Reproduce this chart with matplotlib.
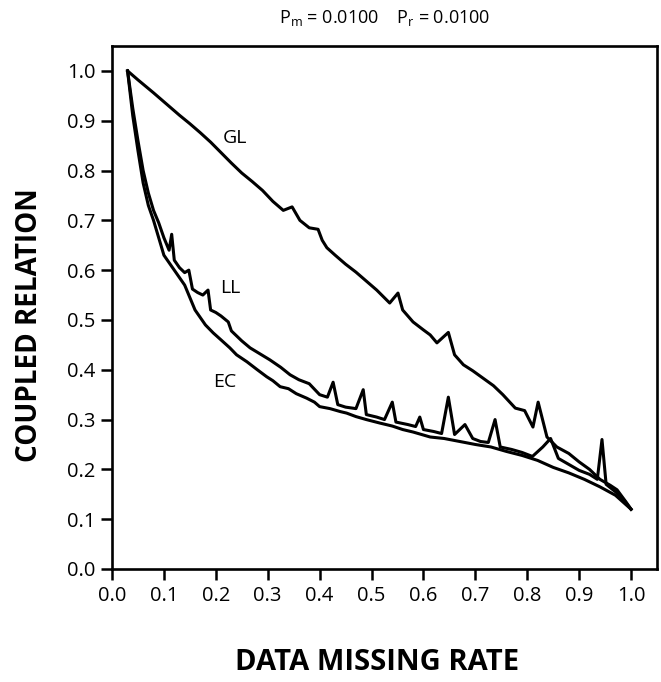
import matplotlib
matplotlib.use("Agg")
import matplotlib.pyplot as plt

plt.rcParams['font.family'] = ['Open Sans', 'DejaVu Sans']
plt.rcParams['mathtext.fontset'] = 'custom'
plt.rcParams['mathtext.rm'] = 'Open Sans'
plt.rcParams['mathtext.it'] = 'Open Sans'

# ---- data ----
gl_x = [0.03, 0.05, 0.08, 0.10, 0.13, 0.15, 0.17, 0.19, 0.21, 0.23, 0.25, 0.27, 0.29, 0.31,
        0.33, 0.347, 0.362, 0.38, 0.397, 0.405, 0.414, 0.43, 0.45, 0.47, 0.49, 0.51, 0.535,
        0.551, 0.56, 0.58, 0.60, 0.613, 0.626, 0.648, 0.66, 0.677, 0.695, 0.715, 0.735, 0.753,
        0.777, 0.795, 0.811, 0.821, 0.838, 0.857, 0.88, 0.90, 0.92, 0.94, 0.96, 0.973, 0.99, 1.0]
gl_y = [1.0, 0.982, 0.956, 0.938, 0.911, 0.894, 0.876, 0.857, 0.836, 0.815, 0.795, 0.778, 0.76,
        0.738, 0.72, 0.727, 0.70, 0.685, 0.682, 0.66, 0.645, 0.63, 0.612, 0.596, 0.578, 0.56,
        0.534, 0.554, 0.52, 0.496, 0.48, 0.47, 0.454, 0.475, 0.43, 0.41, 0.398, 0.383, 0.368,
        0.35, 0.323, 0.318, 0.285, 0.335, 0.265, 0.245, 0.232, 0.215, 0.2, 0.18, 0.168, 0.159,
        0.135, 0.12]

ll_x = [0.03, 0.04, 0.05, 0.06, 0.07, 0.08, 0.09, 0.10, 0.11, 0.115, 0.12, 0.13, 0.14, 0.148,
        0.155, 0.165, 0.175, 0.185, 0.19, 0.20, 0.21, 0.224, 0.23, 0.24, 0.25, 0.266, 0.285,
        0.304, 0.325, 0.343, 0.36, 0.38, 0.40, 0.415, 0.426, 0.435, 0.45, 0.47, 0.484, 0.49,
        0.51, 0.525, 0.54, 0.547, 0.57, 0.585, 0.593, 0.60, 0.62, 0.635, 0.648, 0.66, 0.68,
        0.695, 0.71, 0.725, 0.738, 0.748, 0.77, 0.79, 0.81, 0.83, 0.845, 0.86, 0.88, 0.90,
        0.92, 0.935, 0.944, 0.952, 0.97, 0.985, 1.0]
ll_y = [1.0, 0.925, 0.86, 0.80, 0.755, 0.72, 0.695, 0.665, 0.64, 0.672, 0.62, 0.605, 0.595, 0.60,
        0.562, 0.555, 0.55, 0.56, 0.52, 0.515, 0.508, 0.496, 0.478, 0.468, 0.458, 0.444, 0.432,
        0.42, 0.405, 0.39, 0.38, 0.372, 0.35, 0.345, 0.375, 0.33, 0.325, 0.322, 0.36, 0.31,
        0.305, 0.30, 0.335, 0.295, 0.29, 0.286, 0.305, 0.28, 0.276, 0.272, 0.345, 0.27, 0.29,
        0.262, 0.256, 0.254, 0.30, 0.245, 0.24, 0.234, 0.226, 0.245, 0.262, 0.222, 0.21, 0.198,
        0.19, 0.18, 0.26, 0.17, 0.155, 0.14, 0.12]

ec_x = [0.03, 0.04, 0.05, 0.06, 0.07, 0.08, 0.09, 0.10, 0.11, 0.12, 0.13, 0.14, 0.15, 0.16,
        0.17, 0.18, 0.195, 0.21, 0.227, 0.24, 0.26, 0.28, 0.298, 0.31, 0.324, 0.34, 0.355,
        0.375, 0.39, 0.40, 0.42, 0.44, 0.452, 0.47, 0.49, 0.516, 0.54, 0.56, 0.58, 0.613,
        0.64, 0.67, 0.70, 0.73, 0.76, 0.79, 0.82, 0.85, 0.88, 0.91, 0.94, 0.97, 1.0]
ec_y = [1.0, 0.91, 0.84, 0.775, 0.73, 0.70, 0.665, 0.63, 0.615, 0.60, 0.585, 0.57, 0.545, 0.52,
        0.505, 0.49, 0.474, 0.46, 0.444, 0.43, 0.416, 0.40, 0.386, 0.378, 0.366, 0.362, 0.352,
        0.343, 0.335, 0.326, 0.322, 0.316, 0.313, 0.306, 0.30, 0.293, 0.287, 0.28, 0.275,
        0.265, 0.262, 0.256, 0.25, 0.245, 0.236, 0.228, 0.218, 0.204, 0.193, 0.18, 0.165,
        0.148, 0.12]

curve_labels = ["GL", "LL", "EC"]
label_pos = [(0.237, 0.865), (0.227, 0.564), (0.218, 0.375)]

xticks = [0.0, 0.1, 0.2, 0.3, 0.4, 0.5, 0.6, 0.7, 0.8, 0.9, 1.0]
yticks = [0.0, 0.1, 0.2, 0.3, 0.4, 0.5, 0.6, 0.7, 0.8, 0.9, 1.0]

# ---- figure ----
W, H = 661, 682
fig = plt.figure(figsize=(W / 100, H / 100), dpi=100)
ax = fig.add_axes([112 / W, 1 - 569 / H, 545 / W, 523 / H])

for xs, ys in [(gl_x, gl_y), (ll_x, ll_y), (ec_x, ec_y)]:
    ax.plot(xs, ys, color='black', lw=2.2, solid_joinstyle='round')

for lab, (lx, ly) in zip(curve_labels, label_pos):
    ax.text(lx, ly, lab, fontsize=14, ha='center', va='center', fontweight='medium')

ax.set_xlim(0, 1.05)
ax.set_ylim(0, 1.05)
ax.set_xticks(xticks)
ax.set_yticks(yticks)
ax.set_xticklabels([f"{t:.1f}" for t in xticks])
ax.set_yticklabels([f"{t:.1f}" for t in yticks])
ax.tick_params(direction='out', length=8, width=1.8, labelsize=14.5, pad=4,
               top=False, right=False)
for lbl in ax.get_xticklabels() + ax.get_yticklabels():
    lbl.set_fontweight('medium')
for s in ax.spines.values():
    s.set_linewidth(1.9)

fig.text(384.5 / W, 1 - 18 / H, r'$\mathrm{P_m}$ = 0.0100    $\mathrm{P_r}$ = 0.0100',
         ha='center', va='center', fontsize=13)
fig.text(377 / W, 1 - 662 / H, 'DATA MISSING RATE', ha='center', va='center',
         fontsize=21, fontweight='bold')
fig.text(30 / W, 1 - 325 / H, 'COUPLED RELATION', ha='center', va='center',
         fontsize=20, fontweight='bold', rotation=90)

fig.savefig('out.png', dpi=100)
